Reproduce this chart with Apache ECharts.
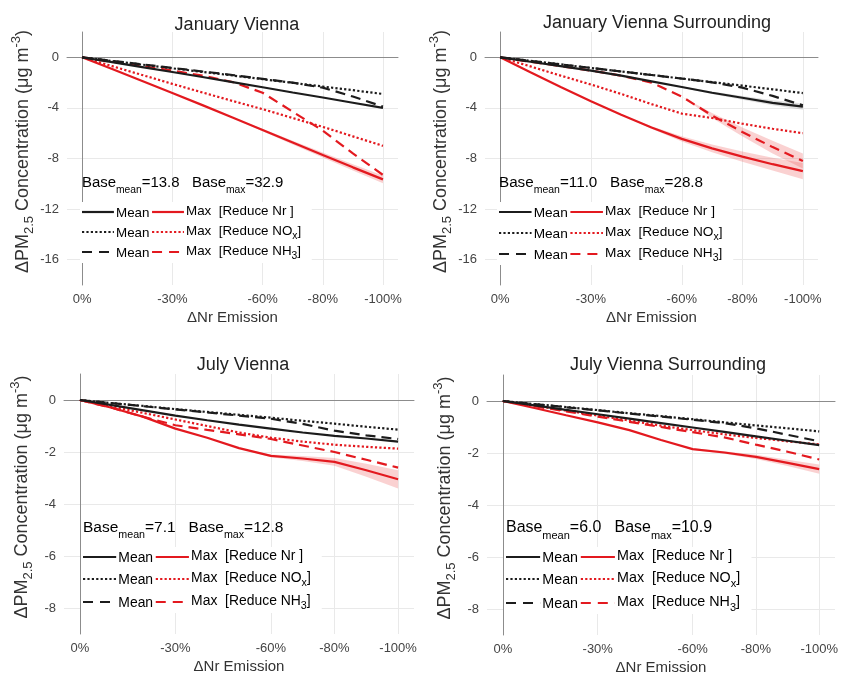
<!DOCTYPE html>
<html><head><meta charset="utf-8">
<script src="https://cdn.jsdelivr.net/npm/echarts@6/dist/echarts.min.js"></script>
<style>html,body{margin:0;padding:0;background:#fff}#c{width:841px;height:677px}</style>
</head><body><div id="c"></div>
<script>
// ---------- data ----------
const xPct = [0,10,20,30,40,50,60,70,80,90,100];
const xTickValues = [0,30,60,80,100];
const yTicksJan = [0,-4,-8,-12,-16];
const yTicksJul = [0,-2,-4,-6,-8];

// January Vienna
const janV_meanNr  = [0,-0.38,-0.77,-1.16,-1.56,-1.96,-2.37,-2.78,-3.18,-3.59,-4.0];
const janV_meanNOx = [0,-0.29,-0.58,-0.87,-1.15,-1.44,-1.73,-2.02,-2.31,-2.6,-2.9];
const janV_meanNH3 = [0,-0.28,-0.56,-0.84,-1.12,-1.4,-1.7,-2.0,-2.4,-3.1,-3.9];
const janV_maxNr   = [0,-0.93,-1.87,-2.82,-3.78,-4.76,-5.75,-6.74,-7.73,-8.7,-9.65];
const janV_maxNOx  = [0,-0.7,-1.4,-2.1,-2.78,-3.45,-4.1,-4.8,-5.5,-6.25,-7.0];
const janV_maxNH3  = [0,-0.35,-0.7,-1.05,-1.45,-1.95,-2.8,-4.3,-5.8,-7.6,-9.3];
const janV_maxNr_lo = [0,-0.93,-1.87,-2.82,-3.78,-4.76,-5.85,-6.89,-7.93,-8.95,-9.95];
const janV_maxNr_hi = [0,-0.93,-1.87,-2.82,-3.78,-4.76,-5.65,-6.59,-7.53,-8.45,-9.35];
const janV_baseMean = '13.8', janV_baseMax = '32.9';

// January Vienna Surrounding
const janS_meanNr  = [0,-0.35,-0.7,-1.05,-1.45,-1.9,-2.35,-2.8,-3.2,-3.6,-3.9];
const janS_meanNOx = [0,-0.28,-0.56,-0.84,-1.12,-1.4,-1.68,-1.96,-2.24,-2.53,-2.83];
const janS_meanNH3 = [0,-0.28,-0.56,-0.84,-1.12,-1.4,-1.68,-1.98,-2.4,-3.05,-3.8];
const janS_maxNr   = [0,-1.18,-2.34,-3.47,-4.55,-5.55,-6.45,-7.2,-7.85,-8.45,-9.0];
const janS_maxNOx  = [0,-0.72,-1.45,-2.15,-2.9,-3.7,-4.45,-4.8,-5.25,-5.65,-6.0];
const janS_maxNH3  = [0,-0.35,-0.7,-1.05,-1.45,-2.0,-3.1,-4.6,-5.9,-7.1,-8.2];
const janS_maxNr_lo  = [0,-1.18,-2.34,-3.47,-4.55,-5.65,-6.65,-7.5,-8.25,-8.95,-9.65];
const janS_maxNr_hi  = [0,-1.18,-2.34,-3.47,-4.55,-5.45,-6.25,-6.9,-7.45,-7.95,-8.35];
const janS_maxNH3_lo = [0,-0.35,-0.7,-1.05,-1.45,-2.0,-3.1,-4.8,-6.25,-7.6,-8.8];
const janS_maxNH3_hi = [0,-0.35,-0.7,-1.05,-1.45,-2.0,-3.1,-4.4,-5.55,-6.6,-7.6];
const janS_meanNr_lo = [0,-0.35,-0.7,-1.05,-1.45,-1.9,-2.4,-2.9,-3.35,-3.8,-4.15];
const janS_meanNr_hi = [0,-0.35,-0.7,-1.05,-1.45,-1.9,-2.3,-2.7,-3.05,-3.4,-3.65];
const janS_baseMean = '11.0', janS_baseMax = '28.8';

// July Vienna
const julV_meanNr  = [0,-0.2,-0.4,-0.6,-0.78,-0.95,-1.1,-1.25,-1.38,-1.48,-1.6];
const julV_meanNOx = [0,-0.12,-0.23,-0.35,-0.46,-0.57,-0.68,-0.8,-0.91,-1.03,-1.14];
const julV_meanNH3 = [0,-0.12,-0.24,-0.36,-0.48,-0.6,-0.72,-0.92,-1.18,-1.36,-1.5];
const julV_maxNr   = [0,-0.3,-0.65,-1.1,-1.45,-1.85,-2.15,-2.25,-2.38,-2.7,-3.05];
const julV_maxNOx  = [0,-0.25,-0.5,-0.75,-1.0,-1.25,-1.45,-1.6,-1.72,-1.8,-1.87];
const julV_maxNH3  = [0,-0.3,-0.65,-0.97,-1.15,-1.32,-1.5,-1.75,-2.0,-2.3,-2.6];
const julV_maxNr_lo = [0,-0.3,-0.65,-1.1,-1.45,-1.85,-2.2,-2.35,-2.53,-2.95,-3.4];
const julV_maxNr_hi = [0,-0.3,-0.65,-1.1,-1.45,-1.85,-2.1,-2.15,-2.23,-2.45,-2.7];
const julV_baseMean = '7.1', julV_baseMax = '12.8';

// July Vienna Surrounding
const julS_meanNr  = [0,-0.17,-0.34,-0.51,-0.68,-0.85,-1.02,-1.19,-1.36,-1.53,-1.7];
const julS_meanNOx = [0,-0.12,-0.23,-0.35,-0.47,-0.58,-0.7,-0.82,-0.94,-1.05,-1.17];
const julS_meanNH3 = [0,-0.12,-0.24,-0.36,-0.48,-0.6,-0.72,-0.85,-1.05,-1.3,-1.55];
const julS_maxNr   = [0,-0.27,-0.55,-0.82,-1.12,-1.5,-1.85,-1.98,-2.15,-2.38,-2.62];
const julS_maxNOx  = [0,-0.18,-0.37,-0.56,-0.75,-0.95,-1.12,-1.28,-1.42,-1.55,-1.67];
const julS_maxNH3  = [0,-0.2,-0.4,-0.6,-0.8,-1.0,-1.2,-1.4,-1.68,-1.95,-2.25];
const julS_maxNr_lo = [0,-0.27,-0.55,-0.82,-1.12,-1.5,-1.88,-2.03,-2.23,-2.5,-2.8];
const julS_maxNr_hi = [0,-0.27,-0.55,-0.82,-1.12,-1.5,-1.82,-1.93,-2.07,-2.26,-2.44];
const julS_baseMean = '6.0', julS_baseMax = '10.9';

// ---------- layout / style ----------
const FONT = 'Liberation Sans, Arial, Helvetica, sans-serif';
const RED = '#e3191f', BLACK = '#1c1c1c', GRIDC = '#e9e9e9', AXISC = '#8c8c8c';
const PINK = 'rgba(238,90,90,0.28)', GREY = 'rgba(60,60,60,0.16)';
const DOT = [2.2, 2.2], DASH = [10, 6];

const panels = [
  {title:'January Vienna', tx:232, ty:11, grid:{left:67,top:32,width:331,height:253}, yMin:-18, yMax:2, yStep:2, yTicks:yTicksJan,
   meanNr:janV_meanNr, meanNOx:janV_meanNOx, meanNH3:janV_meanNH3, maxNr:janV_maxNr, maxNOx:janV_maxNOx, maxNH3:janV_maxNH3,
   bands:[[janV_maxNr_lo, janV_maxNr_hi, PINK]], bm:janV_baseMean, bx:janV_baseMax, lg:{x:82, by:183, rows:[212,232,252], s:1.03}},
  {title:'January Vienna Surrounding', tx:652, ty:9, grid:{left:485,top:32,width:333,height:253}, yMin:-18, yMax:2, yStep:2, yTicks:yTicksJan,
   meanNr:janS_meanNr, meanNOx:janS_meanNOx, meanNH3:janS_meanNH3, maxNr:janS_maxNr, maxNOx:janS_maxNOx, maxNH3:janS_maxNH3,
   bands:[[janS_maxNr_lo, janS_maxNr_hi, PINK],[janS_maxNH3_lo, janS_maxNH3_hi, PINK],[janS_meanNr_lo, janS_meanNr_hi, GREY]],
   bm:janS_baseMean, bx:janS_baseMax, lg:{x:499, by:183, rows:[212,233,254], s:1.05}},
  {title:'July Vienna', tx:238, ty:351, grid:{left:64,top:374,width:350,height:260}, yMin:-9, yMax:1, yStep:1, yTicks:yTicksJul,
   meanNr:julV_meanNr, meanNOx:julV_meanNOx, meanNH3:julV_meanNH3, maxNr:julV_maxNr, maxNOx:julV_maxNOx, maxNH3:julV_maxNH3,
   bands:[[julV_maxNr_lo, julV_maxNr_hi, PINK]], bm:julV_baseMean, bx:julV_baseMax, lg:{x:83, by:528, rows:[557,579,602], s:1.07}},
  {title:'July Vienna Surrounding', tx:663, ty:351, grid:{left:487,top:375,width:351,height:260}, yMin:-9, yMax:1, yStep:1, yTicks:yTicksJul,
   meanNr:julS_meanNr, meanNOx:julS_meanNOx, meanNH3:julS_meanNH3, maxNr:julS_maxNr, maxNOx:julS_maxNOx, maxNH3:julS_maxNH3,
   bands:[[julS_maxNr_lo, julS_maxNr_hi, PINK]], bm:julS_baseMean, bx:julS_baseMax, lg:{x:506, by:528, rows:[557,579,603], s:1.1}}
];

const pairs = arr => xPct.map((x, j) => [x, arr[j]]);

const titles = [], grids = [], xAxes = [], yAxes = [], series = [], graphics = [];

const xTicksAll = []; for (let v = -5; v <= 105; v += 5) xTicksAll.push(v);
const xSplitColors = xTicksAll.map(v => xTickValues.includes(v) ? GRIDC : 'rgba(0,0,0,0)');

panels.forEach((p, i) => {
  titles.push({text:p.title, left:p.tx, top:p.ty, textAlign:'center',
    textStyle:{fontFamily:FONT, fontSize:18, fontWeight:'normal', color:'#222'}});
  grids.push(Object.assign({containLabel:false}, p.grid));
  xAxes.push({type:'value', gridIndex:i, min:-5, max:105, interval:5,
    name:'{a|ΔNr Emission}', nameLocation:'middle', nameGap:25,
    nameTextStyle:{rich:{a:{fontFamily:FONT, fontSize:15, color:'#333'}}},
    axisLine:{show:true, lineStyle:{color:AXISC, width:1}}, axisTick:{show:false},
    axisLabel:{fontFamily:FONT, fontSize:13, color:'#444', margin:8,
      formatter:v => xTickValues.includes(v) ? (v === 0 ? '0%' : '-' + v + '%') : ''},
    splitLine:{show:true, lineStyle:{color:xSplitColors, width:1}}});
  const yTicksAll = []; for (let v = p.yMin; v <= p.yMax + 1e-9; v += p.yStep) yTicksAll.push(Math.round(v*100)/100);
  yAxes.push({type:'value', gridIndex:i, min:p.yMin, max:p.yMax, interval:p.yStep,
    name:'{a|ΔPM}{s|2.5}{a| Concentration (μg m}{p|-3}{a|)}', nameLocation:'middle', nameGap:29, nameRotate:90,
    nameTextStyle:{padding:[0, 0, 0, 14], rich:{
      a:{fontFamily:FONT, fontSize:18, color:'#333', lineHeight:26, verticalAlign:'middle'},
      s:{fontFamily:FONT, fontSize:13, color:'#333', lineHeight:13, verticalAlign:'bottom'},
      p:{fontFamily:FONT, fontSize:13, color:'#333', lineHeight:13, verticalAlign:'top'}}},
    axisLine:{show:true, lineStyle:{color:AXISC, width:1}}, axisTick:{show:false},
    axisLabel:{fontFamily:FONT, fontSize:13, color:'#444', margin:8,
      formatter:v => p.yTicks.includes(v) ? String(v) : ''},
    splitLine:{show:true, lineStyle:{color:yTicksAll.map(v => p.yTicks.includes(v) ? GRIDC : 'rgba(0,0,0,0)'), width:1}}});

  // uncertainty bands drawn as polygons through the axis scales
  p.bands.forEach(b => {
    const lo = b[0], hi = b[1], col = b[2];
    series.push({type:'custom', xAxisIndex:i, yAxisIndex:i, silent:true, z:1,
      data:xPct.map((x, j) => [x, lo[j], hi[j]]), encode:{x:0, y:[1, 2]},
      renderItem:(params, api) => {
        if (params.dataIndex !== 0) return null;
        const pts = xPct.map((x, j) => api.coord([x, hi[j]]))
          .concat(xPct.map((x, j) => api.coord([x, lo[j]])).reverse());
        return {type:'polygon', shape:{points:pts}, style:{fill:col}};
      }});
  });
  const line = (arr, color, type) => ({type:'line', xAxisIndex:i, yAxisIndex:i, data:pairs(arr), symbol:'none', silent:true,
    lineStyle:{color, width:2.2, type, cap:'butt'}, z:2});
  series.push(line(p.maxNr, RED, 'solid'), line(p.maxNOx, RED, DOT), line(p.maxNH3, RED, DASH));
  series.push(line(p.meanNr, BLACK, 'solid'), line(p.meanNOx, BLACK, DOT), line(p.meanNH3, BLACK, DASH));

  // in-plot annotation + legend (legend box with white background)
  const L = p.lg, s = L.s;
  const rich = {
    b:{fontFamily:FONT, fontSize:14.5*s, color:'#333', lineHeight:24*s, verticalAlign:'middle'},
    t:{fontFamily:FONT, fontSize:13*s, color:'#444', lineHeight:20*s, verticalAlign:'middle'},
    u:{fontFamily:FONT, fontSize:10*s, color:'#444', lineHeight:10*s, verticalAlign:'bottom'}
  };
  graphics.push({type:'rect', silent:true, z:50,
    shape:{x:L.x - 2, y:L.rows[0] - 10, width:225*s, height:L.rows[2] - L.rows[0] + 21},
    style:{fill:'#fff'}});
  graphics.push({type:'text', x:L.x, y:L.by, silent:true, z:51,
    style:{text:'{b|Base}{u|mean}{b|=' + p.bm + '   Base}{u|max}{b|=' + p.bx + '}', rich, verticalAlign:'middle', align:'left'}});
  const dashes = [null, [2.2, 2.2], [10, 7]];
  const maxLabels = ['{t|Max  [Reduce Nr ]}', '{t|Max  [Reduce NO}{u|x}{t|]}', '{t|Max  [Reduce NH}{u|3}{t|]}'];
  L.rows.forEach((ry, r) => {
    graphics.push({type:'line', silent:true, z:51, shape:{x1:L.x, y1:ry, x2:L.x + 31*s, y2:ry},
      style:{stroke:BLACK, lineWidth:2.2, lineDash:dashes[r]}});
    graphics.push({type:'text', x:L.x + 33*s, y:ry + 1, silent:true, z:51, style:{text:'{t|Mean}', rich, verticalAlign:'middle', align:'left'}});
    graphics.push({type:'line', silent:true, z:51, shape:{x1:L.x + 68*s, y1:ry, x2:L.x + 99*s, y2:ry},
      style:{stroke:RED, lineWidth:2.2, lineDash:dashes[r]}});
    graphics.push({type:'text', x:L.x + 101*s, y:ry - 1, silent:true, z:51, style:{text:maxLabels[r], rich, verticalAlign:'middle', align:'left'}});
  });
});

const chart = echarts.init(document.getElementById('c'), null, {renderer:'canvas'});
chart.setOption({
  animation:false, backgroundColor:'#fff',
  title:titles, grid:grids, xAxis:xAxes, yAxis:yAxes, series, graphic:graphics
});
</script></body></html>
